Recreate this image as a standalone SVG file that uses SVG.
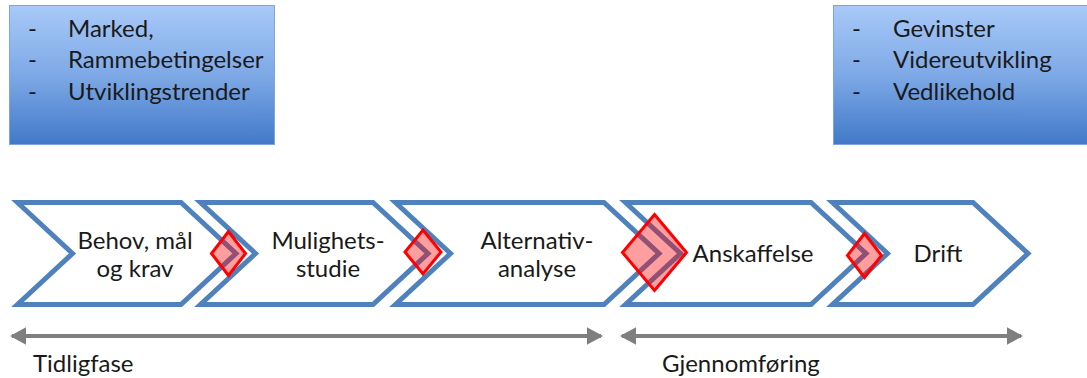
<svg xmlns="http://www.w3.org/2000/svg" width="1087" height="378" viewBox="0 0 1087 378">
  <style>
    .lbl { font-family: Lato, "Open Sans", "Liberation Sans", sans-serif; font-size: 24px; fill: #1a1a1a; }
    .box { fill: url(#boxGrad); stroke: #7fa5da; stroke-width: 1; }
    .chev { fill: #ffffff; stroke: #4f81bd; stroke-width: 5; stroke-linejoin: miter; }
    .gate { fill: #ff0000; fill-opacity: 0.38; stroke: #ff0000; stroke-width: 3; stroke-linejoin: miter; }
    .span { stroke: #7f7f7f; stroke-width: 4; fill: none; marker-start: url(#headL); marker-end: url(#headR); }
  </style>
  <defs>
    <linearGradient id="boxGrad" x1="0" y1="0" x2="0" y2="1">
      <stop offset="0" stop-color="#a8c9f8"/>
      <stop offset="0.5" stop-color="#7ea9e6"/>
      <stop offset="1" stop-color="#4179c9"/>
    </linearGradient>
    <marker id="headR" markerWidth="4" markerHeight="4.4" refX="3.5" refY="2.2" orient="auto" markerUnits="strokeWidth">
      <path d="M0,0 L4,2.2 L0,4.4 Z" fill="#7f7f7f"/>
    </marker>
    <marker id="headL" markerWidth="4" markerHeight="4.4" refX="0.5" refY="2.2" orient="auto" markerUnits="strokeWidth">
      <path d="M4,0 L0,2.2 L4,4.4 Z" fill="#7f7f7f"/>
    </marker>
  </defs>

  <!-- context boxes -->
  <g id="ctx-left">
    <rect class="box" x="9.5" y="5.5" width="265" height="139"/>
    <text class="lbl">
      <tspan x="28" y="37">-</tspan><tspan x="68" y="37">Marked,</tspan>
      <tspan x="28" y="68">-</tspan><tspan x="68" y="68">Rammebetingelser</tspan>
      <tspan x="28" y="100">-</tspan><tspan x="68" y="100">Utviklingstrender</tspan>
    </text>
  </g>
  <g id="ctx-right">
    <rect class="box" x="833.5" y="5.5" width="260" height="139"/>
    <text class="lbl">
      <tspan x="852" y="37">-</tspan><tspan x="893" y="37">Gevinster</tspan>
      <tspan x="852" y="68">-</tspan><tspan x="893" y="68">Videreutvikling</tspan>
      <tspan x="852" y="100">-</tspan><tspan x="893" y="100">Vedlikehold</tspan>
    </text>
  </g>

  <!-- phase chevrons -->
  <g id="phase-behov">
    <polygon class="chev" points="17.5,202.5 181,202.5 236,253.5 181,304.5 17.5,304.5 72.5,253.5"/>
    <text class="lbl" text-anchor="middle"><tspan x="135" y="249">Behov, mål</tspan><tspan x="135" y="277">og krav</tspan></text>
  </g>
  <g id="phase-mulighet">
    <polygon class="chev" points="200.5,202.5 373,202.5 428,253.5 373,304.5 200.5,304.5 255.5,253.5"/>
    <text class="lbl" text-anchor="middle"><tspan x="328" y="249">Mulighets-</tspan><tspan x="328" y="277">studie</tspan></text>
  </g>
  <g id="phase-alternativ">
    <polygon class="chev" points="395.5,202.5 604,202.5 659,253.5 604,304.5 395.5,304.5 450.5,253.5"/>
    <text class="lbl" text-anchor="middle"><tspan x="537" y="249">Alternativ-</tspan><tspan x="537" y="277">analyse</tspan></text>
  </g>
  <g id="phase-anskaffelse">
    <polygon class="chev" points="625.5,202.5 811,202.5 866,253.5 811,304.5 625.5,304.5 680.5,253.5"/>
    <text class="lbl" text-anchor="middle" x="753" y="262">Anskaffelse</text>
  </g>
  <g id="phase-drift">
    <polygon class="chev" points="832.5,202.5 973,202.5 1028,253.5 973,304.5 832.5,304.5 887.5,253.5"/>
    <text class="lbl" text-anchor="middle" x="938" y="262">Drift</text>
  </g>

  <!-- decision gates -->
  <g id="gate-1"><polygon class="gate" points="228.5,231.5 245.5,253.5 228.5,275.5 211.5,253.5"/></g>
  <g id="gate-2"><polygon class="gate" points="423,230 441,252 423,274 405,252"/></g>
  <g id="gate-3"><polygon class="gate" points="654.5,214.5 686.5,252.5 654.5,290.5 622.5,252.5"/></g>
  <g id="gate-4"><polygon class="gate" points="864.5,233.5 881.5,255.5 864.5,277.5 847.5,255.5"/></g>

  <!-- phase spans -->
  <g id="connectors">
    <line class="span" x1="12" y1="336" x2="601" y2="336"/>
    <line class="span" x1="622" y1="336" x2="1021" y2="336"/>
  </g>
  <g id="span-labels">
    <text class="lbl" x="33" y="372">Tidligfase</text>
    <text class="lbl" x="662" y="372">Gjennomføring</text>
  </g>
</svg>
